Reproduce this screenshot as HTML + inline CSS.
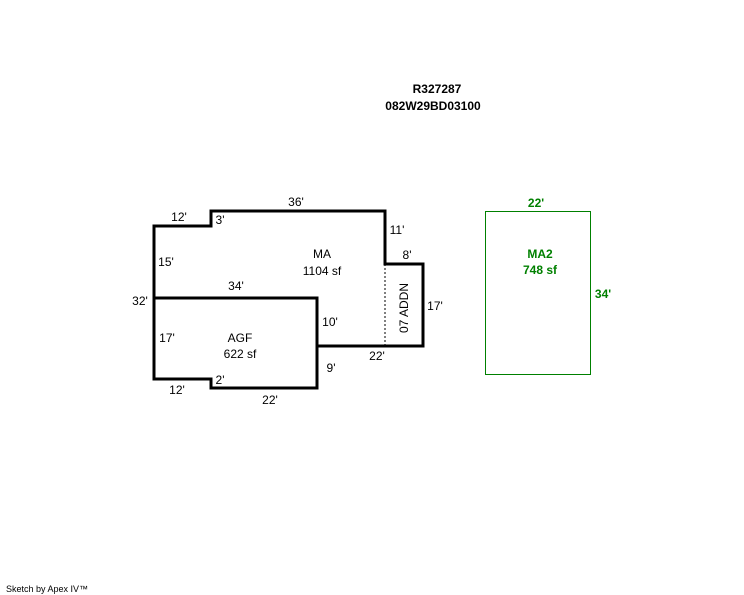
<!DOCTYPE html>
<html><head><meta charset="utf-8"><style>
html,body{margin:0;padding:0;background:#fff;}
svg{display:block;}
text{font-family:"Liberation Sans",Arial,sans-serif;font-size:12px;fill:#000;}
.b{font-weight:bold;}
.g{fill:#008000;font-weight:bold;}
</style></head><body>
<svg width="744" height="595" viewBox="0 0 744 595" xmlns="http://www.w3.org/2000/svg">
<text x="437" y="93" text-anchor="middle" class="b">R327287</text>
<text x="433" y="110" text-anchor="middle" class="b">082W29BD03100</text>

<g fill="none" stroke="#000" stroke-width="3" stroke-linejoin="miter">
<polyline points="154,298 154,226 211,226 211,211 385,211 385,264 423,264 423,346 317,346"/>
<polyline points="154,298 317,298 317,388 211,388 211,379 154,379 154,298"/>
</g>
<line x1="385" y1="264" x2="385" y2="346" stroke="#000" stroke-width="1" stroke-dasharray="2,2"/>

<text x="296" y="206" text-anchor="middle">36'</text>
<text x="179" y="221" text-anchor="middle">12'</text>
<text x="220" y="224" text-anchor="middle">3'</text>
<text x="397" y="234" text-anchor="middle">11'</text>
<text x="407" y="259" text-anchor="middle">8'</text>
<text x="166" y="266" text-anchor="middle">15'</text>
<text x="322" y="258" text-anchor="middle">MA</text>
<text x="322" y="275" text-anchor="middle">1104 sf</text>
<text x="236" y="290" text-anchor="middle">34'</text>
<text x="140" y="305" text-anchor="middle">32'</text>
<text x="435" y="310" text-anchor="middle">17'</text>
<text transform="translate(408,308) rotate(-90)" text-anchor="middle">07 ADDN</text>
<text x="330" y="326" text-anchor="middle">10'</text>
<text x="167" y="342" text-anchor="middle">17'</text>
<text x="240" y="342" text-anchor="middle">AGF</text>
<text x="240" y="358" text-anchor="middle">622 sf</text>
<text x="377" y="360" text-anchor="middle">22'</text>
<text x="331" y="372" text-anchor="middle">9'</text>
<text x="220" y="384" text-anchor="middle">2'</text>
<text x="177" y="394" text-anchor="middle">12'</text>
<text x="270" y="404" text-anchor="middle">22'</text>

<rect x="485.5" y="211.5" width="105" height="163" fill="none" stroke="#008000" stroke-width="1"/>
<text x="536" y="207" text-anchor="middle" class="g">22'</text>
<text x="540" y="258" text-anchor="middle" class="g">MA2</text>
<text x="540" y="274" text-anchor="middle" class="g">748 sf</text>
<text x="603" y="298" text-anchor="middle" class="g">34'</text>

<text x="6" y="592" style="font-size:9px">Sketch by Apex IV™</text>
</svg>
</body></html>
